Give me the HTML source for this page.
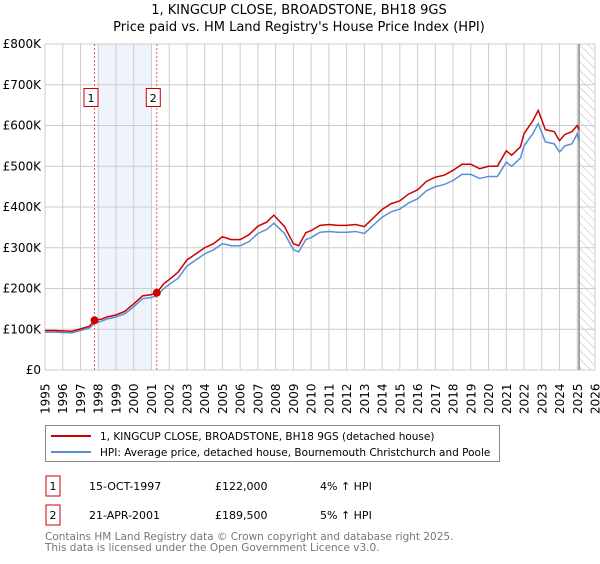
<!DOCTYPE html>
<html><head><meta charset="utf-8"><style>
body{margin:0;background:#fff;font-family:"DejaVu Sans","Liberation Sans",sans-serif;}
svg text{font-family:"DejaVu Sans","Liberation Sans",sans-serif;}
</style></head><body>
<svg id="c" width="600" height="560" xmlns="http://www.w3.org/2000/svg">
<defs><pattern id="hatch" width="6" height="6" patternUnits="userSpaceOnUse" patternTransform="rotate(-45)"><line x1="0" y1="0" x2="0" y2="6" stroke="#bbb" stroke-width="1"/></pattern></defs>
<text x="299" y="14" text-anchor="middle" font-size="13">1, KINGCUP CLOSE, BROADSTONE, BH18 9GS</text>
<text x="299" y="31" text-anchor="middle" font-size="13">Price paid vs. HM Land Registry's House Price Index (HPI)</text>
<g id="plot"></g>
<rect x="45.5" y="425.5" width="454" height="36" fill="#fff" stroke="#888"/>
<line x1="51" y1="436" x2="91" y2="436" stroke="#cc0000" stroke-width="2"/>
<text x="100" y="440" font-size="10.5">1, KINGCUP CLOSE, BROADSTONE, BH18 9GS (detached house)</text>
<line x1="51" y1="452" x2="91" y2="452" stroke="#5b8fd4" stroke-width="2"/>
<text x="100" y="456" font-size="10.5">HPI: Average price, detached house, Bournemouth Christchurch and Poole</text>
<rect x="46" y="476" width="14" height="20" fill="#fff" stroke="#cc0000"/>
<text x="53" y="490" font-size="11" text-anchor="middle">1</text>
<text x="89" y="490" font-size="11">15-OCT-1997</text>
<text x="215" y="490" font-size="11">£122,000</text>
<text x="320" y="490" font-size="11">4% ↑ HPI</text>
<rect x="46" y="505" width="14" height="20" fill="#fff" stroke="#cc0000"/>
<text x="53" y="519" font-size="11" text-anchor="middle">2</text>
<text x="89" y="519" font-size="11">21-APR-2001</text>
<text x="215" y="519" font-size="11">£189,500</text>
<text x="320" y="519" font-size="11">5% ↑ HPI</text>
<text x="45" y="540" font-size="10.5" fill="#777">Contains HM Land Registry data © Crown copyright and database right 2025.</text>
<text x="45" y="551" font-size="10.5" fill="#777">This data is licensed under the Open Government Licence v3.0.</text>
</svg>
<script>
const yTicks=[0,100,200,300,400,500,600,700,800];
const yTickLabels=["£0","£100K","£200K","£300K","£400K","£500K","£600K","£700K","£800K"];
const years=[1995,1996,1997,1998,1999,2000,2001,2002,2003,2004,2005,2006,2007,2008,2009,2010,2011,2012,2013,2014,2015,2016,2017,2018,2019,2020,2021,2022,2023,2024,2025,2026];
const hpiT=[1995,1995.5,1996,1996.5,1997,1997.5,1997.8,1998.2,1998.5,1999,1999.5,2000,2000.5,2001,2001.3,2001.7,2002,2002.5,2003,2003.5,2004,2004.5,2005,2005.5,2006,2006.5,2007,2007.5,2007.9,2008.5,2009,2009.3,2009.7,2010,2010.5,2011,2011.5,2012,2012.5,2013,2013.5,2014,2014.5,2015,2015.5,2016,2016.5,2017,2017.5,2018,2018.5,2019,2019.5,2020,2020.5,2021,2021.3,2021.8,2022,2022.5,2022.8,2023.2,2023.7,2024,2024.3,2024.7,2025,2025.1];
const hpiV=[93,93,92,91,97,103,115,120,125,130,138,155,175,178,182,200,210,225,255,270,285,295,310,305,305,315,335,345,360,335,295,290,320,325,338,340,338,338,340,335,355,375,388,395,410,420,440,450,455,465,480,480,470,475,475,510,500,520,550,580,605,560,555,535,550,555,580,560];
const priceV=[97,97,96,95,101,107,122,125,130,135,144,162,182,185,189.5,212,222,240,270,285,300,310,327,320,320,332,353,363,380,352,310,305,337,342,355,357,355,355,357,352,373,394,408,415,432,442,463,473,478,490,505,505,494,500,500,538,527,548,580,612,637,590,585,563,578,585,600,590];
const saleT=[1997.79,2001.3];
const saleV=[122,189.5];
const X0=45,X1=595,Y0=370,Y1=44;
const xs=t=>X0+(t-1995)/(2026-1995)*(X1-X0);
const ys=v=>Y0-v/800*(Y0-Y1);
const NS="http://www.w3.org/2000/svg";
const g=document.getElementById('plot');
function mk(tag,attrs,parent){const e=document.createElementNS(NS,tag);for(const k in attrs)e.setAttribute(k,attrs[k]);(parent||g).appendChild(e);return e;}
let e;
e=mk('rect',{x:xs(1998),y:Y1,width:xs(2001)-xs(1998),height:Y0-Y1,fill:'#eef3fc'});


e=mk('rect',{x:xs(2025.1),y:Y1,width:X1-xs(2025.1),height:Y0-Y1,fill:'url(#hatch)'});


years.forEach(y=>{e=mk('line',{x1:xs(y),x2:xs(y),y1:Y1,y2:Y0,stroke:'#ccc','stroke-width':1});


e=mk('text',{x:0,y:0,transform:`translate(${xs(y)+4.5},${Y0+44}) rotate(-90)`,'font-size':12});
e.textContent=y;

});
yTicks.forEach((v,i)=>{e=mk('line',{x1:X0,x2:X1,y1:ys(v),y2:ys(v),stroke:'#ccc','stroke-width':1});


e=mk('text',{x:X0-4,y:ys(v)+4,'text-anchor':'end','font-size':12});
e.textContent=yTickLabels[i];

});
e=mk('line',{x1:xs(2025.1),x2:xs(2025.1),y1:Y1,y2:Y0,stroke:'#888','stroke-width':1.5});


saleT.forEach((t,i)=>{e=mk('line',{x1:xs(t),x2:xs(t),y1:Y1,y2:Y0,stroke:'#f06060','stroke-dasharray':'2,2','stroke-width':1});


e=mk('rect',{x:xs(t)-10.5,y:88.5,width:14,height:18,fill:'#fff',stroke:'#cc0000'});


e=mk('text',{x:xs(t)-3.5,y:102,'text-anchor':'middle','font-size':11});
e.textContent=String(i+1);

});
e=mk('polyline',{points:hpiT.map((t,i)=>xs(t)+','+ys(hpiV[i])).join(' '),fill:'none',stroke:'#5b8fd4','stroke-width':1.5});


e=mk('polyline',{points:hpiT.map((t,i)=>xs(t)+','+ys(priceV[i])).join(' '),fill:'none',stroke:'#cc0000','stroke-width':1.5});


saleT.forEach((t,i)=>{e=mk('circle',{cx:xs(t),cy:ys(saleV[i]),r:4,fill:'#cc0000'});

});
</script>
</body></html>
